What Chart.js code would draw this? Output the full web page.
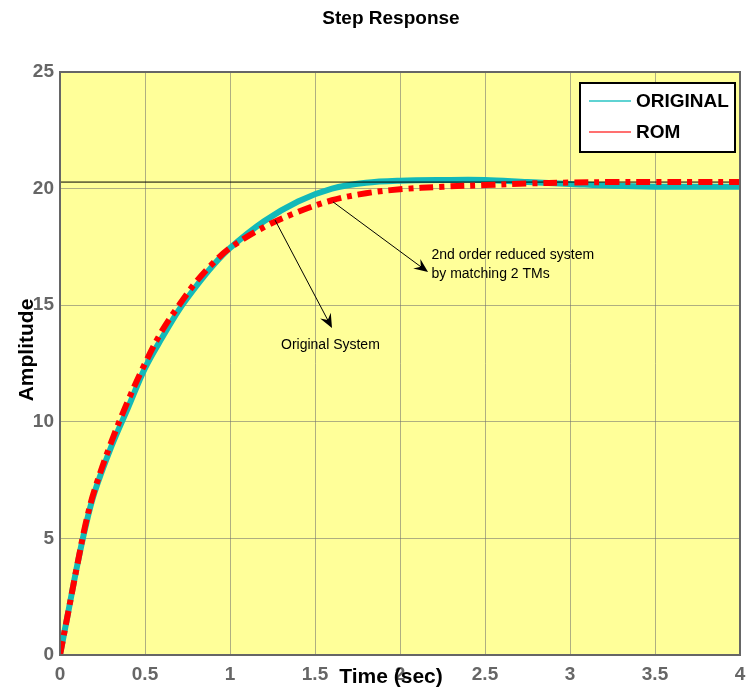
<!DOCTYPE html>
<html>
<head>
<meta charset="utf-8">
<script src="https://cdn.jsdelivr.net/npm/chart.js@4.4.1/dist/chart.umd.min.js"></script>
<style>
  html, body { margin: 0; padding: 0; background: #fff; }
  #wrap { width: 751px; height: 690px; position: relative; }
</style>
</head>
<body>
<div id="wrap"><canvas id="stepChart"></canvas></div>
<script>
// Step response samples (time in sec)
const time = [0, 0.05, 0.1, 0.15, 0.2, 0.3, 0.4, 0.5, 0.6, 0.7, 0.8, 0.9, 1.0,
  1.2, 1.4, 1.6, 1.8, 2.0, 2.25, 2.5, 2.75, 3.0, 3.25, 3.5, 3.75, 4.0];
const original = [0, 1.9, 3.8, 5.5, 6.9, 8.9, 10.6, 12.3, 13.6, 14.8, 15.8, 16.7, 17.45,
  18.6, 19.45, 20.0, 20.25, 20.34, 20.37, 20.37, 20.28, 20.2, 20.12, 20.08, 20.08, 20.08];
const rom = [0, 1.9, 3.8, 5.6, 7.0, 9.1, 10.9, 12.5, 13.9, 15.0, 16.0, 16.8, 17.45,
  18.35, 19.0, 19.5, 19.8, 19.97, 20.08, 20.15, 20.22, 20.26, 20.28, 20.28, 20.28, 20.28];
const steadyTime = [0, 4];
const steadyValue = [20.28, 20.28];
const xTicks = [0, 0.5, 1, 1.5, 2, 2.5, 3, 3.5, 4];
const yTicks = [0, 5, 10, 15, 20, 25];

const seriesNames = ['ORIGINAL', 'ROM'];
const CYAN = '#12b9b9';
const RED = '#ff0000';

const toPoints = (xs, ys) => xs.map((x, i) => ({ x: x, y: ys[i] }));

// annotation texts and arrows, in data coordinates
const notes = [
  { lines: ['2nd order reduced system', 'by matching 2 TMs'], x: 2.185, y: 17.15,
    from: [1.606, 19.43], to: [2.165, 16.42] },
  { lines: ['Original System'], x: 1.3, y: 13.3,
    from: [1.265, 18.65], to: [1.6, 14.02] }
];

function drawArrow(ctx, x1, y1, x2, y2) {
  const ang = Math.atan2(y2 - y1, x2 - x1);
  const len = 14, half = 6, notch = 5;
  ctx.beginPath();
  ctx.moveTo(x1, y1);
  ctx.lineTo(x2 - Math.cos(ang) * notch, y2 - Math.sin(ang) * notch);
  ctx.stroke();
  ctx.save();
  ctx.translate(x2, y2);
  ctx.rotate(ang);
  ctx.beginPath();
  ctx.moveTo(0, 0);
  ctx.lineTo(-len, -half);
  ctx.lineTo(-len + notch, 0);
  ctx.lineTo(-len, half);
  ctx.closePath();
  ctx.fill();
  ctx.restore();
}

const panelPlugin = {
  id: 'panel',
  beforeDraw(chart) {
    const { ctx, chartArea: a } = chart;
    ctx.save();
    ctx.fillStyle = '#ffffff';
    ctx.fillRect(0, 0, chart.width, chart.height);
    ctx.fillStyle = '#ffff99';
    ctx.fillRect(a.left, a.top, a.right - a.left, a.bottom - a.top);
    ctx.restore();
  },
  afterDraw(chart) {
    const { ctx, chartArea: a, scales } = chart;
    const sx = v => scales.x.getPixelForValue(v);
    const sy = v => scales.y.getPixelForValue(v);
    ctx.save();

    // axes box
    ctx.strokeStyle = '#666666';
    ctx.lineWidth = 2;
    ctx.strokeRect(a.left, a.top, a.right - a.left, a.bottom - a.top);

    // title
    ctx.fillStyle = '#000';
    ctx.textAlign = 'center';
    ctx.textBaseline = 'middle';
    ctx.font = 'bold 19px "Liberation Sans", Arial';
    ctx.fillText('Step Response', 391, 19);

    // axis titles
    ctx.font = 'bold 21px "Liberation Sans", Arial';
    ctx.fillText('Time (sec)', 391, 677);
    ctx.save();
    ctx.translate(27, 350);
    ctx.rotate(-Math.PI / 2);
    ctx.fillText('Amplitude', 0, 0);
    ctx.restore();

    // notes with arrows
    ctx.strokeStyle = '#000';
    ctx.fillStyle = '#000';
    ctx.lineWidth = 1;
    ctx.font = '14px "Liberation Sans", Arial';
    ctx.textAlign = 'left';
    notes.forEach(n => {
      drawArrow(ctx, sx(n.from[0]), sy(n.from[1]), sx(n.to[0]), sy(n.to[1]));
      n.lines.forEach((t, i) => ctx.fillText(t, sx(n.x), sy(n.y) + i * 19));
    });

    // legend
    const lx = 580, ly = 83, lw = 155, lh = 69;
    ctx.fillStyle = '#ffffff';
    ctx.fillRect(lx, ly, lw, lh);
    ctx.strokeStyle = '#000';
    ctx.lineWidth = 2;
    ctx.strokeRect(lx, ly, lw, lh);
    const legendColors = ['#5fd3d3', '#ff7070'];
    ctx.font = 'bold 19px "Liberation Sans", Arial';
    seriesNames.forEach((name, i) => {
      const yy = ly + 18 + i * 31;
      ctx.strokeStyle = legendColors[i];
      ctx.lineWidth = 2;
      ctx.beginPath();
      ctx.moveTo(lx + 9, yy);
      ctx.lineTo(lx + 51, yy);
      ctx.stroke();
      ctx.fillStyle = '#000';
      ctx.fillText(name, lx + 56, yy + 1);
    });
    ctx.restore();
  }
};

const tickFont = { family: '"Liberation Sans", Arial', size: 19, weight: 'bold' };

new Chart(document.getElementById('stepChart'), {
  type: 'line',
  data: {
    datasets: [
      {
        label: seriesNames[1],
        data: toPoints(time, rom),
        borderColor: RED,
        borderWidth: 6,
        borderDash: [14, 6, 5, 6],
        pointRadius: 0,
        tension: 0.35,
        fill: false,
        order: 0
      },
      {
        label: 'steady',
        data: toPoints(steadyTime, steadyValue),
        borderColor: '#000',
        borderWidth: 1,
        pointRadius: 0,
        fill: false,
        order: 1
      },
      {
        label: seriesNames[0],
        data: toPoints(time, original),
        borderColor: CYAN,
        borderWidth: 6,
        pointRadius: 0,
        tension: 0.35,
        fill: false,
        order: 2
      }
    ]
  },
  options: {
    responsive: true,
    maintainAspectRatio: false,
    animation: false,
    layout: { padding: { top: 72, right: 11, left: 0, bottom: 0 } },
    plugins: {
      legend: { display: false },
      title: { display: false },
      tooltip: { enabled: false }
    },
    scales: {
      x: {
        type: 'linear',
        min: 0,
        max: 4,
        afterBuildTicks: s => { s.ticks = xTicks.map(v => ({ value: v })); },
        afterFit: s => { s.height = 35; s.paddingLeft = 0; s.paddingRight = 0; },
        grid: { color: 'rgba(110,110,110,0.55)', lineWidth: 1, drawTicks: false },
        border: { display: false },
        ticks: { color: '#666666', font: tickFont, padding: 8, maxRotation: 0,
          callback: v => String(v) }
      },
      y: {
        min: 0,
        max: 25,
        afterBuildTicks: s => { s.ticks = yTicks.map(v => ({ value: v })); },
        afterFit: s => { s.width = 60; s.paddingTop = 0; s.paddingBottom = 0; },
        grid: { color: 'rgba(110,110,110,0.55)', lineWidth: 1, drawTicks: false },
        border: { display: false },
        ticks: { color: '#666666', font: tickFont, padding: 6,
          callback: v => String(v) }
      }
    }
  },
  plugins: [panelPlugin]
});
</script>
</body>
</html>
